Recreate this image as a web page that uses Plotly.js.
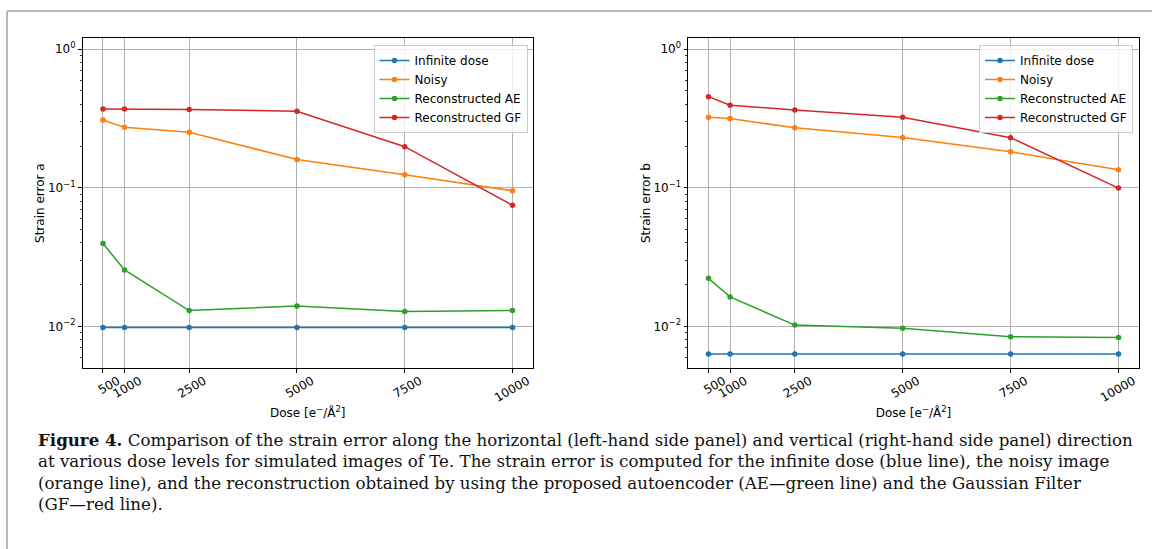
<!DOCTYPE html>
<html>
<head>
<meta charset="utf-8">
<script src="https://cdn.plot.ly/plotly-3.0.1.min.js"></script>
<style>
  html, body { margin: 0; padding: 0; background: #ffffff; }
  #fig { width: 1152px; height: 549px; }
</style>
</head>
<body>
<div id="fig"></div>
<script>
// Dose levels (e-/Å^2)
const doses = [500, 1000, 2500, 5000, 7500, 10000];
const doseLabels = ['500', '1000', '2500', '5000', '7500', '10000'];

// Strain error along a (horizontal)
const infiniteA = [0.0098, 0.0098, 0.0098, 0.0098, 0.0098, 0.0098];
const noisyA    = [0.309, 0.273, 0.252, 0.160, 0.124, 0.0952];
const aeA       = [0.0396, 0.0255, 0.0130, 0.0140, 0.0128, 0.0130];
const gfA       = [0.371, 0.371, 0.367, 0.357, 0.198, 0.0747];

// Strain error along b (vertical)
const infiniteB = [0.0063, 0.0063, 0.0063, 0.0063, 0.0063, 0.0063];
const noisyB    = [0.323, 0.316, 0.271, 0.231, 0.182, 0.135];
const aeB       = [0.0222, 0.0163, 0.0102, 0.0097, 0.0084, 0.0083];
const gfB       = [0.455, 0.394, 0.365, 0.323, 0.230, 0.0995];

const seriesNames = ['Infinite dose', 'Noisy', 'Reconstructed AE', 'Reconstructed GF'];
const seriesColors = ['#1f77b4', '#ff7f0e', '#2ca02c', '#d62728'];

const yTickVals = [0.01, 0.1, 1];
const yTickText = ['10<sup>\u22122</sup>', '10<sup>\u22121</sup>', '10<sup>0</sup>'];
const yMinorVals = [0.006, 0.007, 0.008, 0.009,
                    0.02, 0.03, 0.04, 0.05, 0.06, 0.07, 0.08, 0.09,
                    0.2, 0.3, 0.4, 0.5, 0.6, 0.7, 0.8, 0.9];

const captionLines = [
  '<b>Figure 4.</b> Comparison of the strain error along the horizontal (left-hand side panel) and vertical (right-hand side panel) direction',
  'at various dose levels for simulated images of Te. The strain error is computed for the infinite dose (blue line), the noisy image',
  '(orange line), and the reconstruction obtained by using the proposed autoencoder (AE\u2014green line) and the Gaussian Filter',
  '(GF\u2014red line).'
];

const W = 1152, H = 549;
const px = v => v / W;
const py = v => 1 - v / H;

const sans = 'DejaVu Sans, sans-serif';

function makeTraces(values, xa, ya, legendId) {
  return values.map((vals, i) => ({
    type: 'scatter',
    mode: 'lines+markers',
    x: doses,
    y: vals,
    name: seriesNames[i],
    xaxis: xa,
    yaxis: ya,
    legend: legendId,
    line: { color: seriesColors[i], width: 1.5 },
    marker: { color: seriesColors[i], size: 5.5 },
    hoverinfo: 'skip'
  }));
}

const traces = [
  ...makeTraces([infiniteA, noisyA, aeA, gfA], 'x', 'y', 'legend'),
  ...makeTraces([infiniteB, noisyB, aeB, gfB], 'x2', 'y2', 'legend2')
];

function xAxis(domain, anchor) {
  return {
    domain: domain,
    anchor: anchor,
    range: [25, 10475],
    tickmode: 'array',
    tickvals: doses,
    ticktext: doseLabels,
    tickangle: -30,
    ticklabelshift: 15,
    ticklabelstandoff: -3,
    ticks: 'outside',
    ticklen: 3.5,
    tickwidth: 1,
    tickcolor: '#000',
    tickfont: { family: sans, size: 12, color: '#000' },
    showgrid: true,
    gridcolor: '#b0b0b0',
    gridwidth: 1,
    zeroline: false,
    showline: true,
    linecolor: '#000',
    linewidth: 1,
    mirror: true,
    title: {
      text: 'Dose [e<sup>\u2212</sup>/\u00c5<sup>2</sup>]',
      font: { family: sans, size: 12, color: '#000' },
      standoff: 4
    }
  };
}

function yAxis(domain, anchor, label) {
  return {
    domain: domain,
    anchor: anchor,
    type: 'log',
    range: [Math.log10(0.005), Math.log10(1.2)],
    tickmode: 'array',
    tickvals: yTickVals,
    ticktext: yTickText,
    ticks: 'outside',
    ticklen: 3.5,
    tickwidth: 1,
    tickcolor: '#000',
    tickfont: { family: sans, size: 12, color: '#000' },
    minor: {
      tickmode: 'array',
      tickvals: yMinorVals,
      ticks: 'outside',
      ticklen: 2,
      tickwidth: 0.8,
      tickcolor: '#000',
      showgrid: false
    },
    showgrid: true,
    gridcolor: '#b0b0b0',
    gridwidth: 1,
    zeroline: false,
    showline: true,
    linecolor: '#000',
    linewidth: 1,
    mirror: true,
    title: {
      text: label,
      font: { family: sans, size: 12, color: '#000' },
      standoff: 0
    }
  };
}

function legendBox(xRight) {
  return {
    x: xRight,
    xanchor: 'right',
    y: py(45),
    yanchor: 'top',
    bgcolor: 'rgba(255,255,255,0.8)',
    bordercolor: '#cccccc',
    borderwidth: 1,
    font: { family: sans, size: 12, color: '#000' },
    traceorder: 'normal'
  };
}

const yDomain = [py(368), py(38.3)];

const annotations = captionLines.map((t, i) => ({
  text: t,
  xref: 'paper',
  yref: 'paper',
  x: px(36),
  y: py(440 + i * 21.5),
  xanchor: 'left',
  yanchor: 'middle',
  align: 'left',
  showarrow: false,
  font: { family: 'DejaVu Serif, serif', size: 16.65, color: '#111' }
}));

const layout = {
  width: W,
  height: H,
  margin: { l: 0, r: 0, t: 0, b: 0 },
  paper_bgcolor: '#ffffff',
  plot_bgcolor: '#ffffff',
  showlegend: true,
  xaxis: xAxis([px(82.5), px(533)], 'y'),
  yaxis: yAxis(yDomain, 'x', 'Strain error a'),
  xaxis2: xAxis([px(688), px(1139)], 'y2'),
  yaxis2: yAxis(yDomain, 'x2', 'Strain error b'),
  legend: legendBox(px(527.5)),
  legend2: legendBox(px(1133)),
  annotations: annotations,
  shapes: [
    { type: 'line', xref: 'paper', yref: 'paper', x0: px(7), x1: 1, y0: py(11), y1: py(11),
      line: { color: '#b8b8b8', width: 2 } },
    { type: 'line', xref: 'paper', yref: 'paper', x0: px(7), x1: px(7), y0: 0, y1: py(11),
      line: { color: '#b8b8b8', width: 2 } }
  ]
};

Plotly.newPlot('fig', traces, layout, { displayModeBar: false, staticPlot: true });
</script>
</body>
</html>
